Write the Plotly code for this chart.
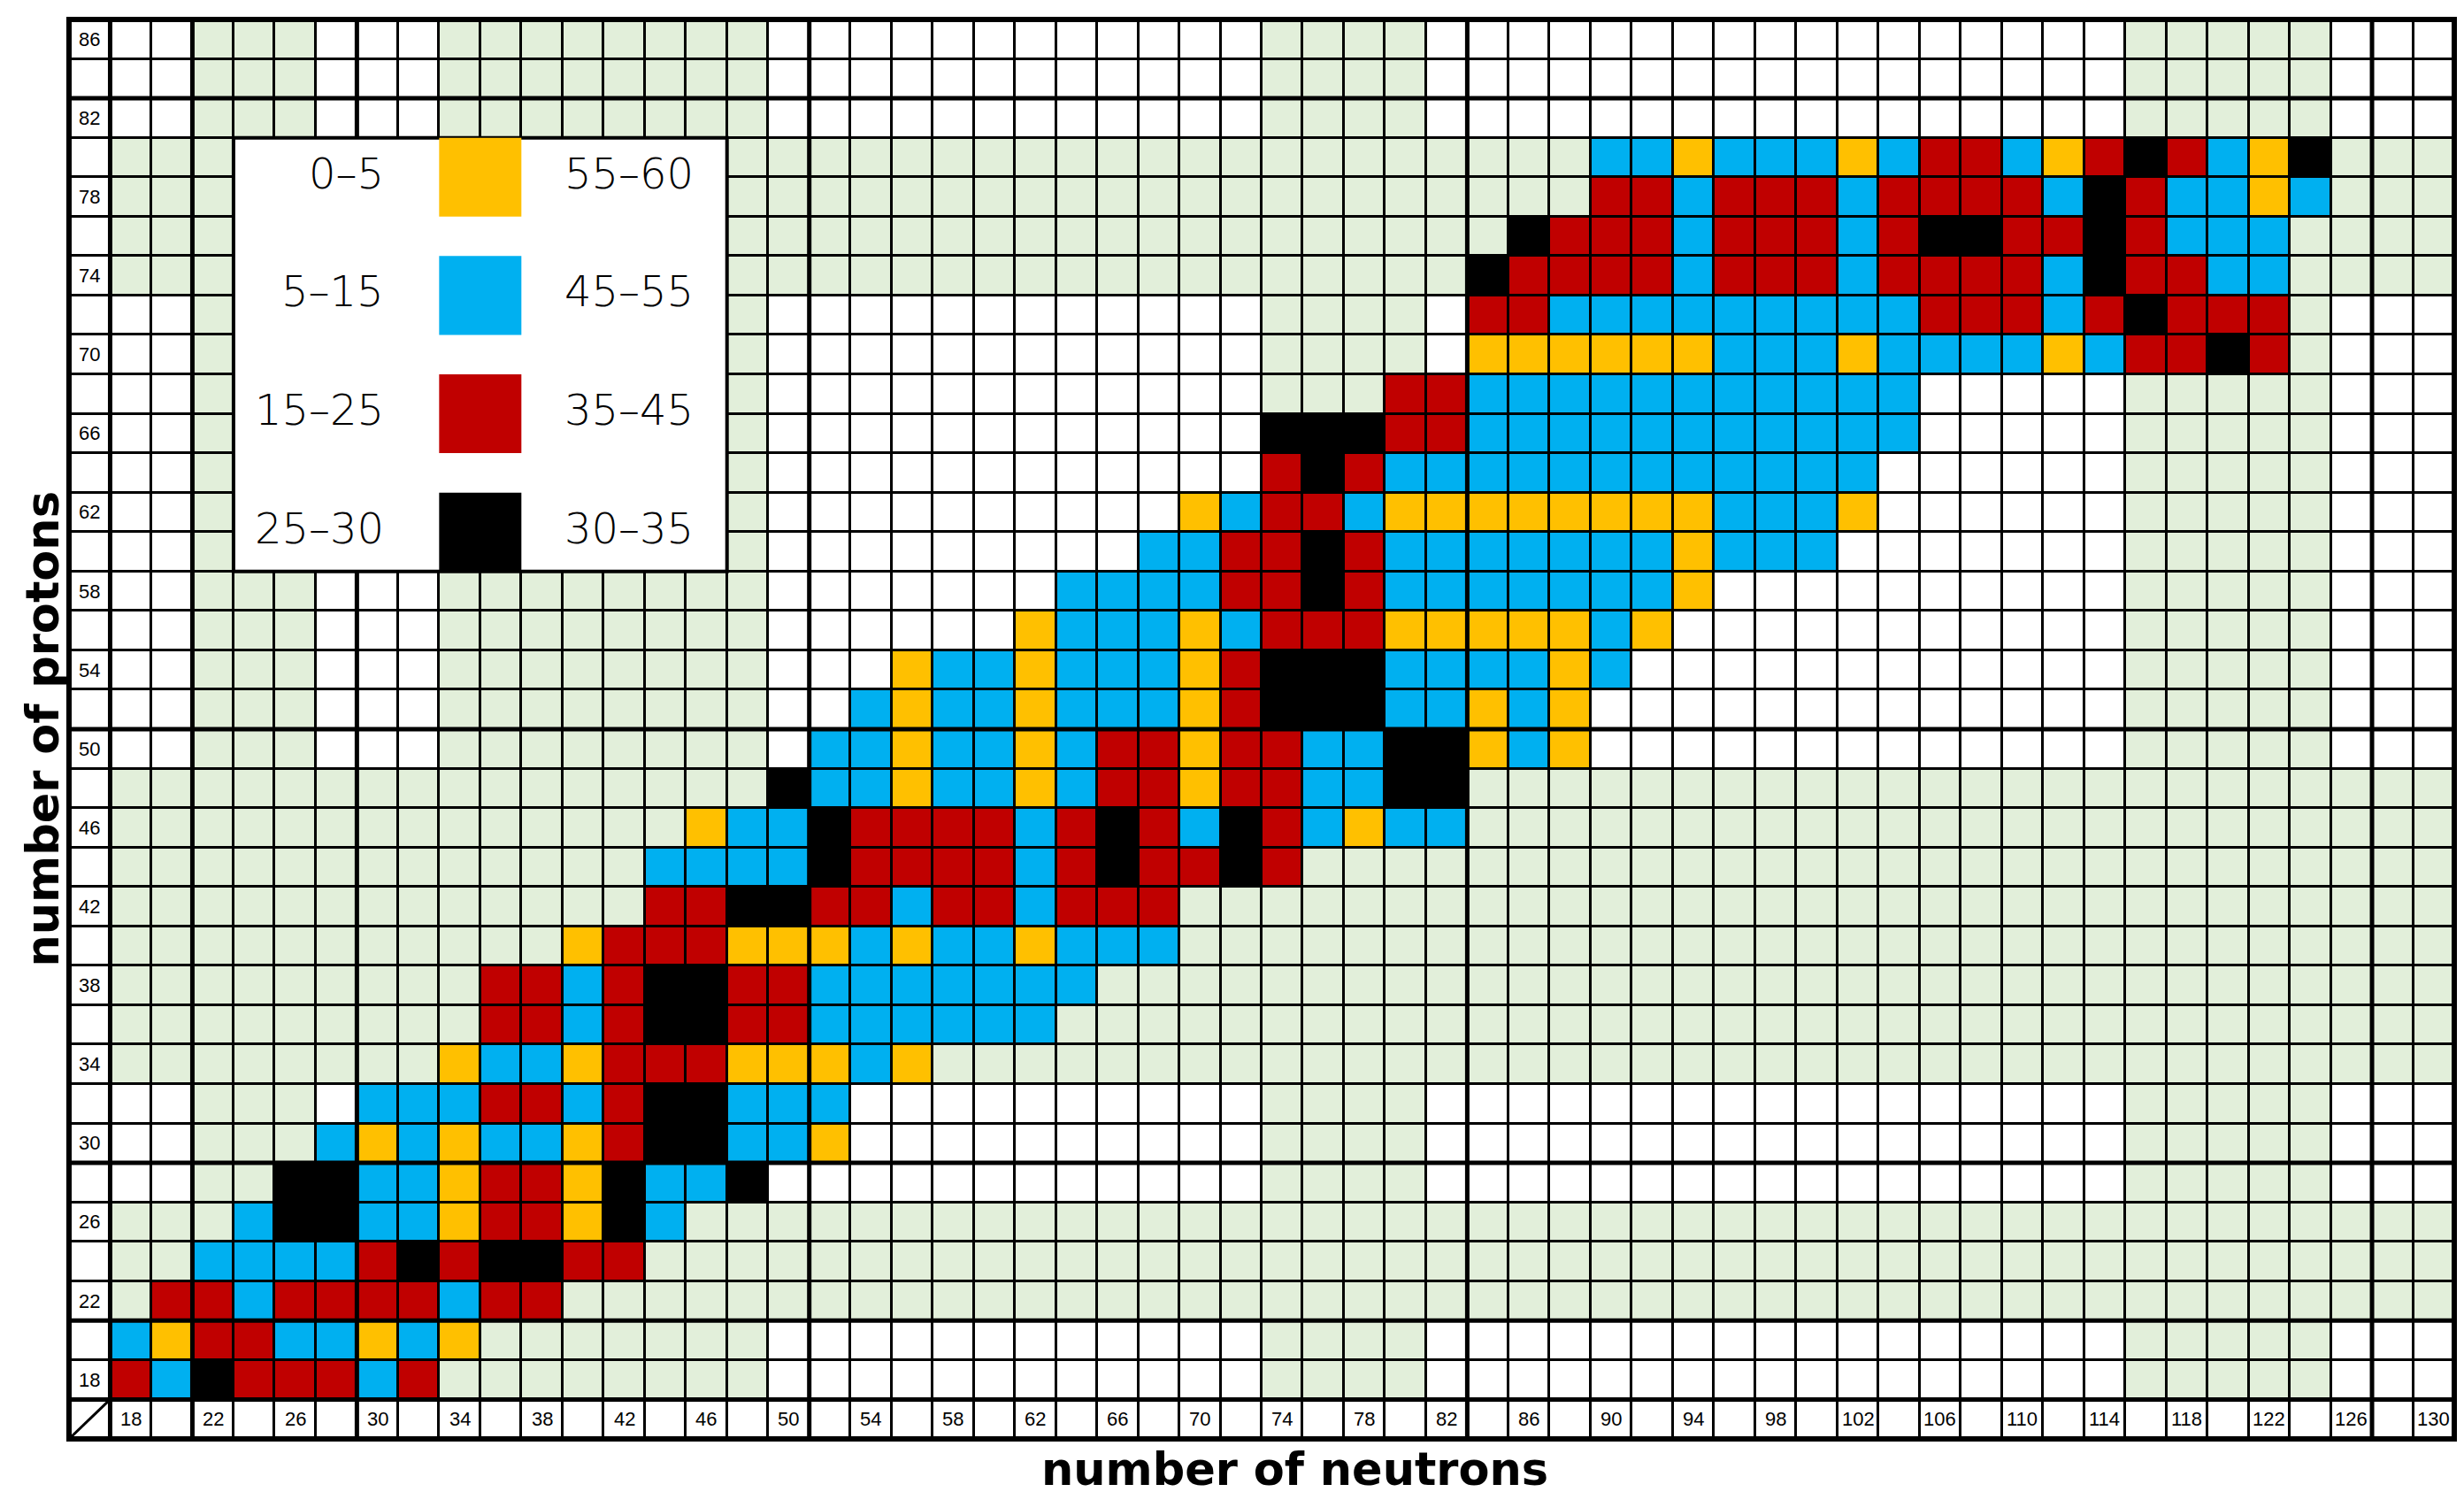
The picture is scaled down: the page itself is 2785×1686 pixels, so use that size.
import plotly.graph_objects as go

# even-even grid: one cell per (N, Z) pair
neutrons = [18, 20, 22, 24, 26, 28, 30, 32, 34, 36, 38, 40, 42, 44, 46, 48, 50, 52, 54, 56,
            58, 60, 62, 64, 66, 68, 70, 72, 74, 76, 78, 80, 82, 84, 86, 88, 90, 92, 94, 96,
            98, 100, 102, 104, 106, 108, 110, 112, 114, 116, 118, 120, 122, 124, 126, 128, 130]
protons = [18, 20, 22, 24, 26, 28, 30, 32, 34, 36, 38, 40, 42, 44, 46, 48, 50, 52, 54, 56,
           58, 60, 62, 64, 66, 68, 70, 72, 74, 76, 78, 80, 82, 84, 86]

x_ticks = [18, 22, 26, 30, 34, 38, 42, 46, 50, 54, 58, 62, 66, 70, 74, 78, 82, 86, 90, 94,
           98, 102, 106, 110, 114, 118, 122, 126, 130]
y_ticks = [18, 22, 26, 30, 34, 38, 42, 46, 50, 54, 58, 62, 66, 70, 74, 78, 82, 86]

# background shading (numbers away from closed shells)
shaded_band = [22, 24, 26, 34, 36, 38, 40, 42, 44, 46, 48, 74, 76, 78, 80,
               116, 118, 120, 122, 124]
magic = [20, 28, 50, 82, 126]

# coloured cells: per proton row, first neutron number and one bin letter per cell
# O = 0-5 / 55-60, B = 5-15 / 45-55, R = 15-25 / 35-45, K = 25-30 / 30-35
row_z = [18, 20, 22, 24, 26, 28, 30, 32, 34, 36, 38, 40, 42, 44, 46, 48,
         50, 52, 54, 56, 58, 60, 62, 64, 66, 68, 70, 72, 74, 76, 78, 80]
row_first_n = [18, 18, 20, 22, 24, 26, 28, 30, 34, 36, 36, 40, 44, 44, 46, 50,
               52, 54, 56, 62, 64, 68, 70, 74, 74, 80, 84, 84, 84, 86, 90, 90]
row_bins = [
    "RBKRRRBR",
    "BORRBBOBO",
    "RRBRRRRBRR",
    "BBBBRKRKKRR",
    "BKKBBORROKB",
    "KKBBORROKBBK",
    "BOBOBBORKKBBO",
    "BBBRRBRKKBBB",
    "OBBORRROOOBO",
    "RRBRKKRRBBBBBB",
    "RRBRKKRRBBBBBBB",
    "ORRROOOBOBBOBBB",
    "RRKKRRBRRBRRR",
    "BBBBKRRRRBRKRRKR",
    "OBBKRRRRBRKRBKRBOBB",
    "KBBOBBOBRRORRBBKK",
    "BBOBBOBRRORRBBKKOBO",
    "BOBBOBBBORKKKBBOBO",
    "OBBOBBBORKKKBBBBOB",
    "OBBBOBRRROOOOOBO",
    "BBBBRRKRBBBBBBBO",
    "BBRRKRBBBBBBBOBBB",
    "OBRRBOOOOOOOOBBBO",
    "RKRBBBBBBBBBBBB",
    "KKKRRBBBBBBBBBBB",
    "RRBBBBBBBBBBB",
    "OOOOOOBBBOBBBBOBRRKR",
    "RRBBBBBBBBBRRRBRKRRR",
    "KRRRRBRRRBRRRRBKRRBB",
    "KRRRBRRRBRKKRRKRBBB",
    "RRBRRRBRRRRBKRBBOB",
    "BBOBBBOBRRBORKRBOK",
]

# legend
bin_keys = ["O", "B", "R", "K"]
bin_low = ["0–5", "5–15", "15–25", "25–30"]
bin_high = ["55–60", "45–55", "35–45", "30–35"]

WHITE = "#FFFFFF"
GREEN = "#E2EFDA"
colors = {"O": "#FFC000", "B": "#00B0F0", "R": "#C00000", "K": "#000000"}
code = {"O": 2, "B": 3, "R": 4, "K": 5}

# label column / row sit at 16 next to the grid
xs = [16] + neutrons
ys = [16] + protons
z = []
for zp in ys:
    row = []
    for n in xs:
        if zp == 16 or n == 16:
            row.append(0)
        elif n in shaded_band or zp in shaded_band:
            row.append(1)
        else:
            row.append(0)
    z.append(row)

for zp, n0, s in zip(row_z, row_first_n, row_bins):
    i = ys.index(zp)
    for k, ch in enumerate(s):
        z[i][xs.index(n0 + 2 * k)] = code[ch]

palette = [WHITE, GREEN, colors["O"], colors["B"], colors["R"], colors["K"]]
cscale = []
for k, c in enumerate(palette):
    cscale += [[k / 6, c], [(k + 1) / 6, c]]

fig = go.Figure(go.Heatmap(
    x=xs, y=ys, z=z, colorscale=cscale, zmin=-0.5, zmax=5.5,
    showscale=False, xgap=3, ygap=3, hoverinfo="skip"))

shapes = []
# thick lines after the magic numbers and around the label cells
for m in [16] + magic:
    shapes.append(dict(type="line", x0=m + 1, x1=m + 1, y0=15, y1=87,
                       line=dict(color="black", width=5)))
for m in [16] + magic[:4]:
    shapes.append(dict(type="line", x0=15, x1=131, y0=m + 1, y1=m + 1,
                       line=dict(color="black", width=5)))
shapes.append(dict(type="line", x0=15, x1=17, y0=15, y1=17,
                   line=dict(color="black", width=3)))
shapes.append(dict(type="rect", xref="paper", yref="paper", x0=0, x1=1, y0=0, y1=1,
                   line=dict(color="black", width=6)))

# legend box
shapes.append(dict(type="rect", x0=23, x1=47, y0=59, y1=81, fillcolor="white",
                   line=dict(color="black", width=4)))
annotations = []
legend_font = dict(family="DejaVu Sans", size=48, color="black", weight=300)
for i, key in enumerate(bin_keys):
    yc = 79 - 6 * i
    shapes.append(dict(type="rect", x0=33, x1=37, y0=yc - 2, y1=yc + 2,
                       fillcolor=colors[key], line=dict(width=0)))
    annotations.append(dict(x=30.4, y=yc + 0.2, text=bin_low[i], showarrow=False,
                            xanchor="right", yanchor="middle", font=legend_font))
    annotations.append(dict(x=39.0, y=yc + 0.2, text=bin_high[i], showarrow=False,
                            xanchor="left", yanchor="middle", font=legend_font))

tick_font = dict(family="Liberation Sans Narrow, Liberation Sans", size=22, color="black")
for n in x_ticks:
    annotations.append(dict(x=n, y=16, text=str(n), showarrow=False, font=tick_font))
for zp in y_ticks:
    annotations.append(dict(x=16, y=zp, text=str(zp), showarrow=False, font=tick_font))

title_font = dict(family="DejaVu Sans", size=51, color="black", weight="bold")
annotations.append(dict(x=74.6, y=0, yref="paper", xanchor="center", yanchor="middle",
                        yshift=-34, text="number of neutrons", showarrow=False,
                        font=title_font))
annotations.append(dict(x=-0.0113, xref="paper", y=51, xanchor="center",
                        yanchor="middle", text="number of protons",
                        textangle=-90, showarrow=False, font=title_font))

fig.update_layout(
    width=2785, height=1686, autosize=False,
    margin=dict(l=70, r=19, t=14, b=68),
    paper_bgcolor="white", plot_bgcolor="black",
    xaxis=dict(range=[15, 131], visible=False, fixedrange=True),
    yaxis=dict(range=[15, 87], visible=False, fixedrange=True),
    shapes=shapes, annotations=annotations, showlegend=False)

fig.write_html("out.html")
